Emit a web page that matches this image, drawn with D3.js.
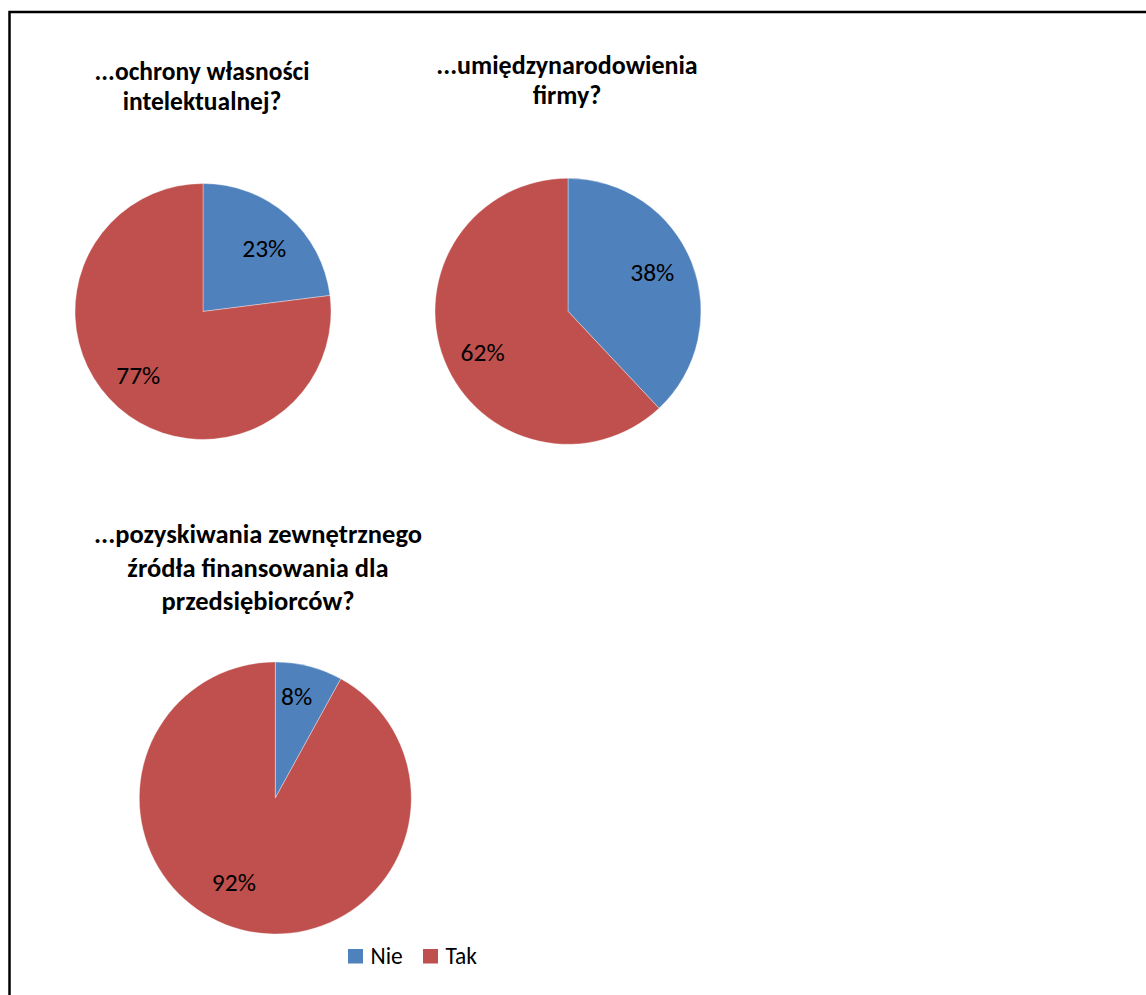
<!DOCTYPE html>
<head>
  <meta charset="utf-8">
  <title>Pie charts</title>
  <script src="https://cdn.jsdelivr.net/npm/d3@7"></script>
  <style>
    body { margin: 0; background: #fff; }
    text { font-family: Carlito, Calibri, Lato, sans-serif; }
  </style>
</head>
<body>
<div id="my_dataviz"></div>
<script>

// data
var categories = ["Nie", "Tak"];
var colors = ["#4F81BD", "#C0504D"];
var titles = [
  ["...ochrony własności", "intelektualnej?"],
  ["...umiędzynarodowienia", "firmy?"],
  ["...pozyskiwania zewnętrznego", "źródła finansowania dla", "przedsiębiorców?"]
];
var nieValues = [23, 38, 8];
var takValues = [77, 62, 92];

// layout of each small pie (center, radius, title position,
// label nudges: [angle offset in degrees, radius factor] per slice)
var layout = [
  {cx: 203, cy: 311.5, r: 128, tx: 202, ty: 79.5, lh: 30, fs: 25.5,
   lbl: [[2.5, 0.69], [4, 0.71]]},
  {cx: 568, cy: 311.3, r: 133, tx: 567, ty: 73.5, lh: 30, fs: 26,
   lbl: [[-3.6, 0.70], [-3.7, 0.71]]},
  {cx: 275.3, cy: 798, r: 136, tx: 258, ty: 543, lh: 33.5, fs: 26.5,
   lbl: [[-2.7, 0.77], [11.8, 0.69]]}
];

var svg = d3.select("#my_dataviz")
  .append("svg")
    .attr("width", 1146)
    .attr("height", 995);

// outer frame (cut off at right and bottom)
svg.append("rect")
  .attr("x", 9.5)
  .attr("y", 12)
  .attr("width", 1300)
  .attr("height", 1200)
  .attr("fill", "none")
  .attr("stroke", "#000")
  .attr("stroke-width", 2.5);

var color = d3.scaleOrdinal().domain(categories).range(colors);

var pie = d3.pie()
  .sort(null)
  .value(function(d) { return d.value; });

layout.forEach(function(L, i) {
  var data = [
    {cat: categories[0], value: nieValues[i]},
    {cat: categories[1], value: takValues[i]}
  ];

  var g = svg.append("g")
    .attr("transform", "translate(" + L.cx + "," + L.cy + ")");

  var arc = d3.arc().innerRadius(0).outerRadius(L.r);

  g.selectAll("path")
    .data(pie(data))
    .enter()
    .append("path")
      .attr("d", arc)
      .attr("fill", function(d) { return color(d.data.cat); })
      .attr("stroke", "#fff")
      .attr("stroke-opacity", 0.6)
      .attr("stroke-width", 0.6);

  // percent labels inside slices
  g.selectAll("text.lbl")
    .data(pie(data))
    .enter()
    .append("text")
      .attr("class", "lbl")
      .attr("transform", function(d, j) {
        var k = L.lbl[j][1];
        var a = (d.startAngle + d.endAngle) / 2 + L.lbl[j][0] * Math.PI / 180;
        return "translate(" + (Math.sin(a) * L.r * k) + "," + (-Math.cos(a) * L.r * k) + ")";
      })
      .attr("text-anchor", "middle")
      .attr("dy", "0.36em")
      .style("font-size", "25.5px")
      .style("fill", "#000")
      .text(function(d) { return d.data.value + "%"; });

  // title
  var t = svg.append("text")
    .attr("x", L.tx)
    .attr("y", L.ty)
    .attr("text-anchor", "middle")
    .style("font-size", L.fs + "px")
    .style("font-weight", "bold")
    .style("fill", "#000");
  titles[i].forEach(function(line, j) {
    t.append("tspan")
      .attr("x", L.tx)
      .attr("y", L.ty + j * L.lh)
      .text(line);
  });
});

// legend
var legend = svg.append("g").attr("transform", "translate(348,949)");
var items = legend.selectAll("g")
  .data(categories)
  .enter()
  .append("g")
    .attr("transform", function(d, i) { return "translate(" + (i * 75) + ",0)"; });
items.append("rect")
  .attr("width", 15)
  .attr("height", 14.5)
  .attr("fill", function(d) { return color(d); });
items.append("text")
  .attr("x", 22.5)
  .attr("y", 14.5)
  .style("font-size", "23.5px")
  .style("fill", "#000")
  .text(function(d) { return d; });

</script>
</body>
